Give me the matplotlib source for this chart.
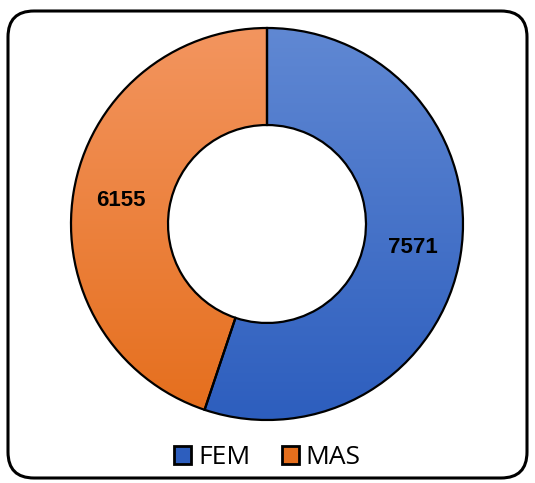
import numpy as np
import matplotlib.pyplot as plt
from matplotlib.patches import FancyBboxPatch

# data
labels = ["FEM", "MAS"]
values = [7571, 6155]
top_colors = ["#6088d3", "#f3955f"]
bottom_colors = ["#2d5ebe", "#e56e1c"]

W, H = 535, 483
fig = plt.figure(figsize=(W / 100, H / 100), dpi=100)
ax = fig.add_axes([0, 0, 1, 1])
ax.set_xlim(0, W)
ax.set_ylim(0, H)
ax.set_aspect("equal")
ax.axis("off")

# rounded frame
frame = FancyBboxPatch((8, 5), 519, 467, boxstyle="round,pad=0,rounding_size=26",
                       fc="white", ec="black", lw=2.2, transform=ax.transData, zorder=0)
ax.add_patch(frame)

cx, cy, R = 267, H - 224, 196
wedges, _ = ax.pie(values, startangle=90, counterclock=False, center=(cx, cy),
                   radius=R, wedgeprops=dict(width=R * 0.495, edgecolor="black", linewidth=1.6),
                   frame=True)
ax.set_xlim(0, W)
ax.set_ylim(0, H)
ax.axis("off")

# vertical gradient fill clipped to each wedge
grad = np.linspace(0, 1, 256)[:, None]
for w, c0, c1 in zip(wedges, top_colors, bottom_colors):
    a = np.array(plt.matplotlib.colors.to_rgb(c0))
    b = np.array(plt.matplotlib.colors.to_rgb(c1))
    img = a[None, None, :] * (1 - grad[:, :, None]) + b[None, None, :] * grad[:, :, None]
    im = ax.imshow(img, extent=(cx - R, cx + R, cy - R, cy + R), origin="upper",
                   aspect="auto", zorder=1)
    im.set_clip_path(w)
    w.set_facecolor("none")
    w.set_zorder(2)

# value labels
total = sum(values)
ang = 90
for v in values:
    span = v / total * 360
    mid = np.deg2rad(ang - span / 2)
    ang -= span
    r = R * 0.755
    ax.text(cx + r * np.cos(mid), cy + r * np.sin(mid), str(v), ha="center", va="center",
            fontsize=16, fontweight="bold", family="Liberation Sans", zorder=3)

# legend
handles = [plt.Rectangle((0, 0), 1, 1, fc=c, ec="black", lw=2) for c in bottom_colors]
leg = ax.legend(handles, labels, loc="center", bbox_to_anchor=(0.5, (H - 458) / H),
                ncol=2, frameon=False, handlelength=0.65, handleheight=0.65,
                handletextpad=0.25, columnspacing=1.2,
                prop={"family": "Open Sans", "size": 19})

fig.savefig("out.png", dpi=100)
